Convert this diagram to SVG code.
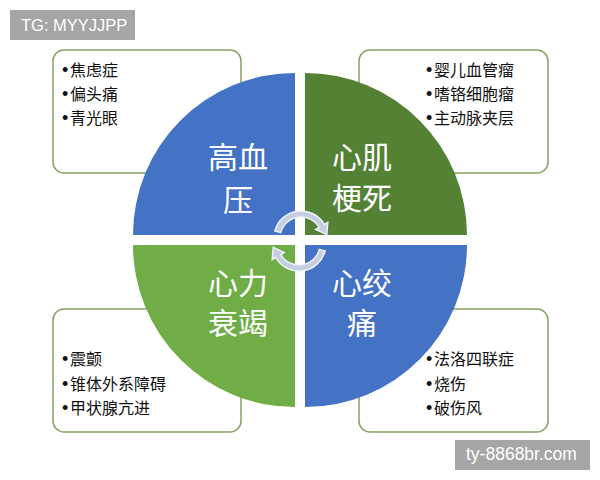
<svg xmlns="http://www.w3.org/2000/svg" width="600" height="480" viewBox="0 0 600 480">
<style>
.box{fill:#fff;stroke:#86a264;stroke-width:1.5}
.item{font-family:"Noto Sans CJK SC","Noto Sans",sans-serif;font-size:16px;fill:#111}
.b{font-family:"Liberation Sans",Arial,sans-serif;font-size:18px}
.big{font-family:"Noto Sans CJK SC","Noto Sans",sans-serif;font-size:30px;fill:#fff;text-anchor:middle}
.wm{fill:#a6a6a6}
.wmt{font-family:"Liberation Sans",Arial,sans-serif;fill:#fff}
.arr{fill:#c5cde1;stroke:#eef1f8;stroke-width:1.5}
</style>
<rect width="600" height="480" fill="#fff"/>
<g id="box-tl">
<rect class="box" x="53" y="50" width="188" height="123" rx="11"/>
<text class="item" y="76"><tspan class="b" x="62">•</tspan><tspan x="70">焦虑症</tspan></text>
<text class="item" y="100"><tspan class="b" x="62">•</tspan><tspan x="70">偏头痛</tspan></text>
<text class="item" y="124"><tspan class="b" x="62">•</tspan><tspan x="70">青光眼</tspan></text>
</g>
<g id="box-tr">
<rect class="box" x="359" y="50" width="189" height="123" rx="11"/>
<text class="item" y="76"><tspan class="b" x="426">•</tspan><tspan x="434">婴儿血管瘤</tspan></text>
<text class="item" y="100"><tspan class="b" x="426">•</tspan><tspan x="434">嗜铬细胞瘤</tspan></text>
<text class="item" y="124"><tspan class="b" x="426">•</tspan><tspan x="434">主动脉夹层</tspan></text>
</g>
<g id="box-bl">
<rect class="box" x="53" y="309" width="188" height="123" rx="11"/>
<text class="item" y="365"><tspan class="b" x="62">•</tspan><tspan x="70">震颤</tspan></text>
<text class="item" y="390"><tspan class="b" x="62">•</tspan><tspan x="70">锥体外系障碍</tspan></text>
<text class="item" y="414"><tspan class="b" x="62">•</tspan><tspan x="70">甲状腺亢进</tspan></text>
</g>
<g id="box-br">
<rect class="box" x="359" y="309" width="189" height="123" rx="11"/>
<text class="item" y="365"><tspan class="b" x="426">•</tspan><tspan x="434">法洛四联症</tspan></text>
<text class="item" y="390"><tspan class="b" x="426">•</tspan><tspan x="434">烧伤</tspan></text>
<text class="item" y="414"><tspan class="b" x="426">•</tspan><tspan x="434">破伤风</tspan></text>
</g>
<g id="q-tl">
<path d="M295 235 L133 235 A162 162 0 0 1 295 73 Z" fill="#4472c4"/>
<text class="big" x="238" y="168">高血</text>
<text class="big" x="238" y="211">压</text>
</g>
<g id="q-tr">
<path d="M305 235 L305 73 A162 162 0 0 1 467 235 Z" fill="#548235"/>
<text class="big" x="362" y="168">心肌</text>
<text class="big" x="362" y="209">梗死</text>
</g>
<g id="q-bl">
<path d="M295 245 L295 407 A162 162 0 0 1 133 245 Z" fill="#70ad47"/>
<text class="big" x="238" y="294">心力</text>
<text class="big" x="238" y="334">衰竭</text>
</g>
<g id="q-br">
<path d="M305 245 L467 245 A162 162 0 0 1 305 407 Z" fill="#4472c4"/>
<text class="big" x="362" y="294">心绞</text>
<text class="big" x="362" y="334">痛</text>
</g>
<g id="connectors">
<path class="arr" d="M280.7 232.6 L274.9 231 A27 27 0 0 1 324.4 224.5 L327.8 222.5 L326.8 234.7 L315.7 229.5 L319.2 227.5 A21 21 0 0 0 280.7 232.6 Z"/>
<path class="arr" transform="translate(0 2) rotate(180 300 240)" d="M280.7 232.6 L274.9 231 A27 27 0 0 1 324.4 224.5 L327.8 222.5 L326.8 234.7 L315.7 229.5 L319.2 227.5 A21 21 0 0 0 280.7 232.6 Z"/>
</g>
<g id="wm-tl">
<rect class="wm" x="10" y="10" width="125" height="30"/>
<text class="wmt" x="21" y="31" font-size="16.5">TG: MYYJJPP</text>
</g>
<g id="wm-br">
<rect class="wm" x="455" y="440" width="135" height="30"/>
<text class="wmt" x="466" y="460" font-size="17.5">ty-8868br.com</text>
</g>
</svg>
